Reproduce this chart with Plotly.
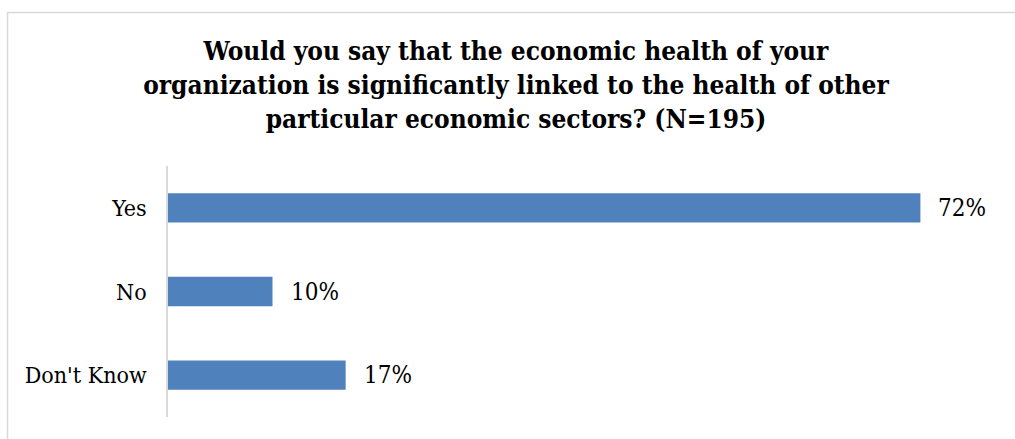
import plotly.graph_objects as go

# Survey responses (share of respondents, %)
categories = ["Yes", "No", "Don't Know"]
shares = [72, 10, 17]
share_labels = ["72%", "10%", "17%"]

title_lines = [
    "Would you say that the economic health of your",
    "organization is significantly linked to the health of other",
    "particular economic sectors? (N=195)",
]

FONT = "DejaVu Serif Condensed, DejaVu Serif, serif"
BAR_COLOR = "#4f81bd"
FRAME = "#d9d9d9"

W, H = 1015, 439
M_L, M_R, M_T, M_B = 168, 11, 166, 22
plot_w = W - M_L - M_R
plot_h = H - M_T - M_B

fig = go.Figure(
    go.Bar(
        x=shares,
        y=categories,
        orientation="h",
        marker=dict(color=BAR_COLOR, line=dict(width=0)),
        hoverinfo="skip",
    )
)

# value labels just past the end of each bar
for cat, val, lab in zip(categories, shares, share_labels):
    fig.add_annotation(
        x=val, y=cat, text=lab, showarrow=False,
        xanchor="left", xshift=16,
        font=dict(family=FONT, size=24, color="#000000"),
    )

# light frame around the chart area (left and top edges fall inside the page)
def px_to_paper_x(px):
    return (px - M_L) / plot_w

def px_to_paper_y(py):
    return (H - M_B - py) / plot_h

fig.add_shape(
    type="rect", xref="paper", yref="paper",
    x0=px_to_paper_x(7.5), x1=px_to_paper_x(W + 20),
    y0=px_to_paper_y(H + 20), y1=px_to_paper_y(12.5),
    line=dict(color=FRAME, width=1.5), fillcolor="rgba(0,0,0,0)", layer="below",
)

fig.update_layout(
    width=W, height=H,
    margin=dict(l=M_L, r=M_R, t=M_T, b=M_B, pad=0),
    paper_bgcolor="white", plot_bgcolor="white",
    showlegend=False,
    bargap=0.65,
    title=dict(
        text="<br>".join(title_lines),
        x=516 / W, xanchor="center", xref="container",
        y=1 - 60 / H, yanchor="top", yref="container",
        font=dict(family=FONT, size=26, color="#000000", weight="bold"),
    ),
    xaxis=dict(
        range=[0, 80], visible=False, showgrid=False, zeroline=False, fixedrange=True,
    ),
    yaxis=dict(
        categoryorder="array", categoryarray=categories, autorange="reversed",
        showline=True, linecolor=FRAME, linewidth=1.5,
        showgrid=False, zeroline=False, ticks="",
        ticklabelstandoff=15,
        tickfont=dict(family=FONT, size=23, color="#000000"),
        fixedrange=True,
    ),
)

fig.write_html("out.html", include_plotlyjs=True, config={"displayModeBar": False})
